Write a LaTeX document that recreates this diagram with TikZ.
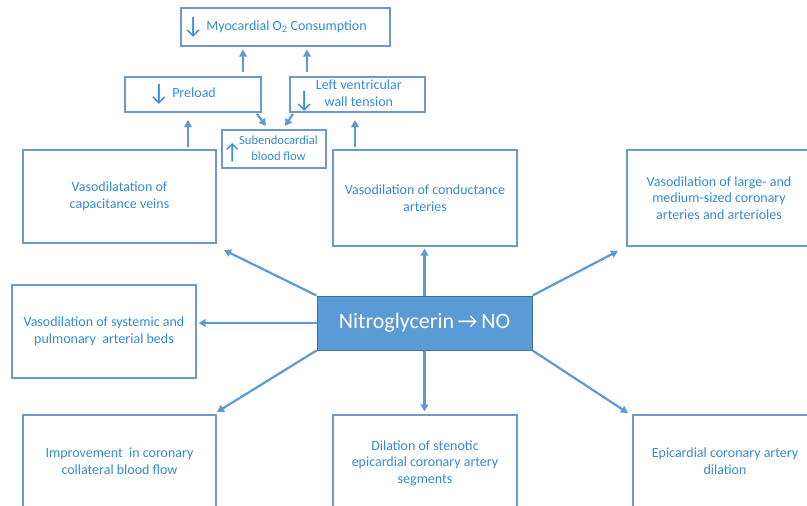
\documentclass[tikz,border=0pt]{standalone}
\usepackage{fontspec}
\setmainfont{Carlito}
\usetikzlibrary{arrows.meta}
\definecolor{nblue}{RGB}{91,155,213}
\definecolor{nline}{RGB}{112,152,202}
\definecolor{nedge}{RGB}{65,113,156}
\definecolor{ntext}{RGB}{52,139,214}
\tikzset{
  box/.style={draw=nline, line width=1.1pt, text=ntext, align=center, inner sep=0pt},
  bigbox/.style={box, font=\fontsize{14}{16.5}\selectfont},
  conn/.style={draw=nblue, line width=2.2pt, -{Triangle[length=7pt,width=7.5pt]}},
}
\newcommand{\dn}{{\fontsize{24}{24}\selectfont\raisebox{-3pt}{↓}}}
\newcommand{\upar}{{\fontsize{22}{22}\selectfont ↑}}
\begin{document}
\begin{tikzpicture}[x=1pt,y=-1pt]
\useasboundingbox (0,0) rectangle (807,506);
% upper chain
\node[box, minimum width=209pt, minimum height=38pt, font=\fontsize{14}{16}\selectfont] (myo) at (285.5,27)
  {\dn\,Myocardial O\textsubscript{2} Consumption\hspace{22pt}};
\node[box, minimum width=136pt, minimum height=35pt, font=\fontsize{14}{16}\selectfont] (pre) at (193,94.5)
  {\dn\,Preload\hspace{22pt}};
\node[box, minimum width=135pt, minimum height=35pt, font=\fontsize{14}{16.5}\selectfont] (lv) at (357.5,94.5)
  {\begin{tabular}{@{}c@{\hspace{1pt}}c@{}}\raisebox{-6pt}{\dn} & \begin{tabular}{@{}c@{}}Left ventricular\\wall tension\end{tabular}\end{tabular}\hspace{20pt}};
\node[box, minimum width=104pt, minimum height=38pt, font=\fontsize{12.5}{16}\selectfont] (sub) at (274,149)
  {\begin{tabular}{@{}c@{\hspace{-3pt}}c@{}}\raisebox{-7pt}{\upar} & \begin{tabular}{@{}c@{}}Subendocardial\\blood flow\end{tabular}\end{tabular}\hspace{8pt}};
% effect boxes
\node[bigbox, minimum width=193pt, minimum height=93pt] (veins) at (119.5,196.5)
  {Vasodilatation of\\capacitance veins};
\node[bigbox, minimum width=184pt, minimum height=96pt] (cond) at (425,198)
  {Vasodilation of conductance\\arteries};
\node[bigbox, minimum width=184pt, minimum height=96pt] (large) at (719,198)
  {Vasodilation of large- and\\medium-sized coronary\\arteries and arterioles};
\node[bigbox, minimum width=184pt, minimum height=93pt] (sys) at (104,331.5)
  {Vasodilation of systemic and\\pulmonary\ \ arterial beds};
\node[bigbox, minimum width=193pt, minimum height=92pt] (impr) at (119.5,461)
  {Improvement\ \ in coronary\\collateral blood flow};
\node[bigbox, minimum width=184pt, minimum height=96pt] (sten) at (425,463)
  {Dilation of stenotic\\epicardial coronary artery\\segments};
\node[bigbox, minimum width=184pt, minimum height=92pt] (epi) at (725,461)
  {Epicardial coronary artery\\dilation};
% centre
\node[draw=nedge, fill=nblue, line width=1pt, text=white, inner sep=0pt,
      minimum width=215pt, minimum height=54pt, font=\fontsize{22}{24}\selectfont] (ntg) at (424.5,323)
  {Nitroglycerin\,→\,NO};
% connectors from the centre
\draw[conn] (ntg.north) -- ([yshift=-2pt]ntg.north |- cond.south);
\draw[conn] (ntg.west) -- ([xshift=2pt]ntg.west -| sys.east);
\draw[conn] (ntg.north west) -- (224,250);
\draw[conn] (ntg.north east) -- (618,251);
\draw[conn] (ntg.south west) -- (217,412);
\draw[conn] (ntg.south east) -- (628,413);
\draw[conn] (ntg.south) -- ([yshift=3pt]ntg.south |- sten.north);
% connectors of the upper chain
\coordinate (v1) at (188,147);
\coordinate (c1) at (355,147);
\draw[conn] (v1) -- (188,120);
\draw[conn] (c1) -- (355,120);
\draw[conn] (243,72) -- ([yshift=-3pt]myo.south -| 243,0);
\draw[conn] (307,72) -- ([yshift=-3pt]myo.south -| 307,0);
\draw[conn] (257,114) -- (266,126);
\draw[conn] (293,114) -- (285,126);
\end{tikzpicture}
\end{document}
